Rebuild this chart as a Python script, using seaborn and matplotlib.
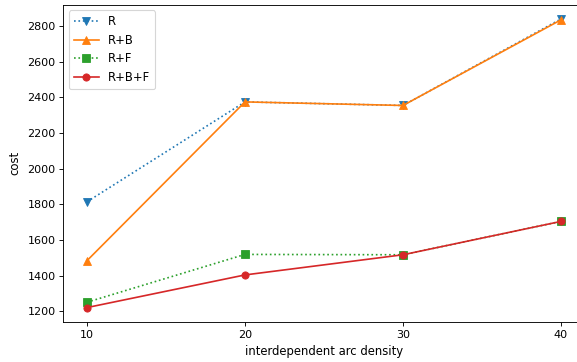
import matplotlib
matplotlib.use("Agg")
import matplotlib.pyplot as plt
import seaborn as sns
import pandas as pd

density = [10, 20, 30, 40]
r = [1815, 2375, 2355, 2840]
r_b = [1485, 2375, 2355, 2835]
r_f = [1252, 1520, 1518, 1705]
r_b_f = [1222, 1405, 1518, 1705]

series = ["R", "R+B", "R+F", "R+B+F"]
values = [r, r_b, r_f, r_b_f]
colors = ["#1f77b4", "#ff7f0e", "#2ca02c", "#d62728"]
markers = ["v", "^", "s", "o"]
styles = [":", "-", ":", "-"]

DPI = 80
fig = plt.figure(figsize=(577 / DPI, 362 / DPI), dpi=DPI)
ax = fig.add_axes([0.1097, 0.1105, 0.9036, 0.877])

for name, vals, c, m, ls in zip(series, values, colors, markers, styles):
    df = pd.DataFrame({"density": density, "cost": vals})
    sns.lineplot(data=df, x="density", y="cost", ax=ax, color=c, marker=m,
                 linestyle=ls, label=name, markersize=6.5, markeredgecolor=c,
                 linewidth=1.5)

ax.set_xticks(density)
ax.set_yticks(range(1200, 2801, 200))
ax.set_xlabel("interdependent arc density", fontsize=10.5, labelpad=5)
ax.set_ylabel("cost", fontsize=10.5, labelpad=5)
ax.legend(loc="upper left", fontsize=10.4, labelspacing=0.5, handlelength=2.2)

fig.savefig("out.png", dpi=DPI)
